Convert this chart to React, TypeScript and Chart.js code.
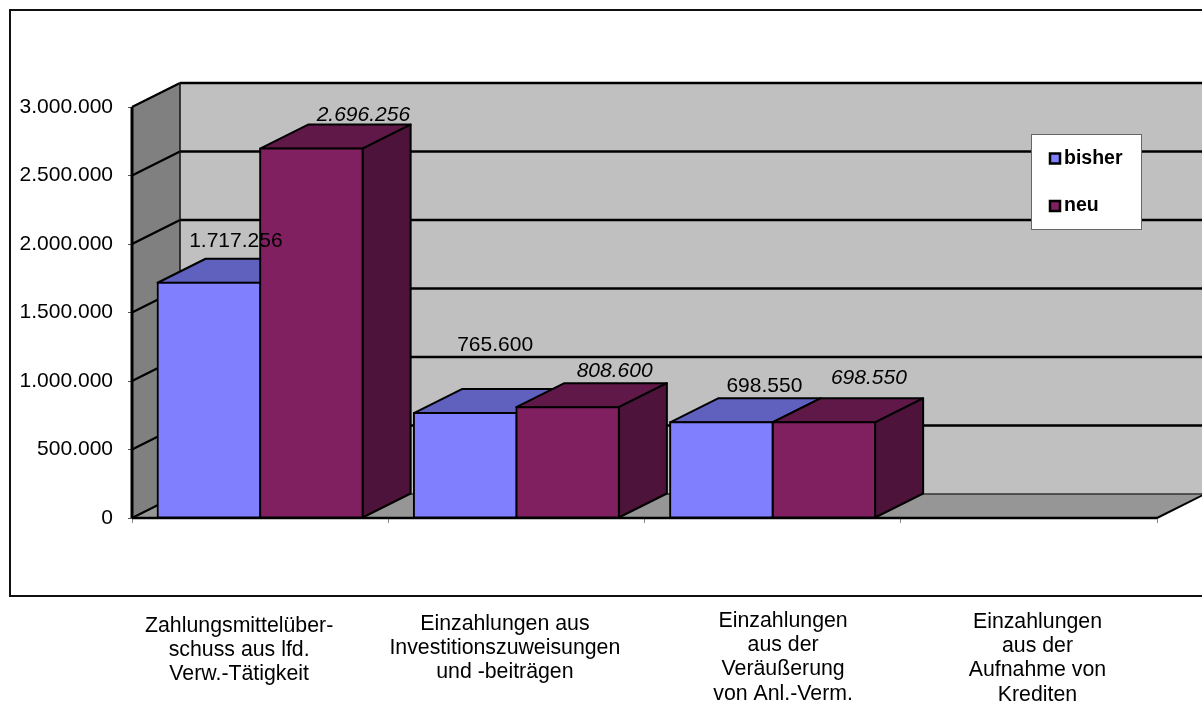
import React, { useEffect, useRef } from "react";
import { Chart, registerables } from "chart.js";

Chart.register(...registerables);

const categories = [
  ["Zahlungsmittelüber-", "schuss aus lfd.", "Verw.-Tätigkeit"],
  ["Einzahlungen aus", "Investitionszuweisungen", "und -beiträgen"],
  ["Einzahlungen", "aus der", "Veräußerung", "von Anl.-Verm."],
  ["Einzahlungen", "aus der", "Aufnahme von", "Krediten"],
];
const bisher = [1717256, 765600, 698550, 0];
const neu = [2696256, 808600, 698550, 0];

const categoryDx = [-21, -11.5, 10.5, 8.6];
const categoryBaseline = [632, 630, 627, 628];
const labelOffsetBisher = [[27, -36], [30, -62], [43, -30]];
const labelOffsetNeu = [[52, -28], [47, -30.5], [45, -38.5]];

const DX = 48;
const DY = -24;
const FONT = "Liberation Sans, Arial, sans-serif";
const fmt = (v: number) => v.toLocaleString("de-DE");

function poly(ctx: CanvasRenderingContext2D, pts: number[][], fill: string | null, stroke: string | null, lw = 2) {
  ctx.beginPath();
  pts.forEach((p, i) => (i ? ctx.lineTo(p[0], p[1]) : ctx.moveTo(p[0], p[1])));
  ctx.closePath();
  if (fill) { ctx.fillStyle = fill; ctx.fill(); }
  if (stroke) { ctx.strokeStyle = stroke; ctx.lineWidth = lw; ctx.lineJoin = "round"; ctx.stroke(); }
}
function line(ctx: CanvasRenderingContext2D, x1: number, y1: number, x2: number, y2: number, c = "#000", lw = 2) {
  ctx.beginPath(); ctx.moveTo(x1, y1); ctx.lineTo(x2, y2); ctx.strokeStyle = c; ctx.lineWidth = lw; ctx.stroke();
}

const topColors = ["#6060BF", "#601848"];
const sideColors = ["#4D4D99", "#4D133A"];

const scene = {
  id: "scene",
  beforeDraw(chart: any) {
    const ctx = chart.ctx;
    ctx.save();
    ctx.fillStyle = "#fff";
    ctx.fillRect(0, 0, chart.width, chart.height);
    ctx.strokeStyle = "#111";
    ctx.lineWidth = 2;
    ctx.strokeRect(10, 10, chart.width + 20, 586);
    ctx.restore();
  },
  beforeDatasetsDraw(chart: any) {
    const ctx = chart.ctx;
    const { left, right, top, bottom } = chart.chartArea;
    const y = chart.scales.y;
    ctx.save();
    // walls and floor
    poly(ctx, [[left + DX, top + DY], [right + DX, top + DY], [right + DX, bottom + DY], [left + DX, bottom + DY]], "#C0C0C0", null);
    poly(ctx, [[left, top], [left + DX, top + DY], [left + DX, bottom + DY], [left, bottom]], "#808080", null);
    poly(ctx, [[left, bottom], [left + DX, bottom + DY], [right + DX, bottom + DY], [right, bottom]], "#969696", null);
    // gridlines
    y.ticks.forEach((t: any) => {
      const py = y.getPixelForValue(t.value);
      if (t.value === 0) return;
      line(ctx, left, py, left + DX, py + DY, "#000", 2.2);
      line(ctx, left + DX, py + DY, right + DX, py + DY, "#000", 2.5);
    });
    line(ctx, left + DX, top + DY, left + DX, bottom + DY, "#111", 1.5);
    line(ctx, left + DX, bottom + DY, right + DX, bottom + DY, "#333", 1.5);
    line(ctx, left, bottom, left + DX, bottom + DY, "#000", 2);
    line(ctx, right, bottom, right + DX, bottom + DY, "#000", 2);
    line(ctx, left, bottom, right, bottom, "#000", 2.5);
    line(ctx, left, top, left, bottom, "#000", 3);
    // bar tops and sides
    [0, 1].forEach((di) => {
      chart.getDatasetMeta(di).data.forEach((b: any, i: number) => {
        if (!chart.data.datasets[di].data[i]) return;
        const x0 = b.x - b.width / 2;
        const x1 = b.x + b.width / 2;
        poly(ctx, [[x0, b.y], [x0 + DX, b.y + DY], [x1 + DX, b.y + DY], [x1, b.y]], topColors[di], "#000");
        poly(ctx, [[x1, b.y], [x1 + DX, b.y + DY], [x1 + DX, b.base + DY], [x1, b.base]], sideColors[di], "#000");
      });
    });
    ctx.restore();
  },
  afterDatasetsDraw(chart: any) {
    const ctx = chart.ctx;
    ctx.save();
    ctx.fillStyle = "#000";
    ctx.textBaseline = "alphabetic";
    ctx.textAlign = "center";
    [labelOffsetBisher, labelOffsetNeu].forEach((off, di) => {
      ctx.font = (di ? "italic " : "") + "21px " + FONT;
      off.forEach((o, i) => {
        const b = chart.getDatasetMeta(di).data[i];
        ctx.fillText(fmt(chart.data.datasets[di].data[i]), b.x + o[0], b.y + o[1]);
      });
    });
    // category labels
    const x = chart.scales.x;
    ctx.font = "21.3px " + FONT;
    categories.forEach((lines, i) => {
      lines.forEach((s, j) => {
        ctx.fillText(s, x.getPixelForValue(i) + categoryDx[i], categoryBaseline[i] + j * 24.2);
      });
    });
    // legend
    ctx.fillStyle = "#fff";
    ctx.fillRect(1031.5, 134.5, 110, 95);
    ctx.strokeStyle = "#666";
    ctx.lineWidth = 1;
    ctx.strokeRect(1031.5, 134.5, 110, 95);
    chart.data.datasets.forEach((d: any, i: number) => {
      const ly = 158.5 + i * 47.5;
      ctx.fillStyle = d.backgroundColor;
      ctx.fillRect(1050, ly - 5, 10, 10);
      ctx.strokeStyle = "#000";
      ctx.lineWidth = 2.5;
      ctx.strokeRect(1050, ly - 5, 10, 10);
      ctx.fillStyle = "#000";
      ctx.textAlign = "left";
      ctx.textBaseline = "middle";
      ctx.font = "bold 19.5px " + FONT;
      ctx.fillText(d.label, 1064, ly);
    });
    ctx.restore();
  },
};

export default function App() {
  const ref = useRef<HTMLCanvasElement>(null);
  useEffect(() => {
    const chart = new Chart(ref.current as HTMLCanvasElement, {
      type: "bar",
      data: {
        labels: categories.map((c) => c.join(" ")),
        datasets: [
          { label: "bisher", data: bisher, backgroundColor: "#8080FF", borderColor: "#000", borderWidth: 2, borderSkipped: false, inflateAmount: 1 },
          { label: "neu", data: neu, backgroundColor: "#802060", borderColor: "#000", borderWidth: 2, borderSkipped: false, inflateAmount: 1 },
        ],
      },
      options: {
        animation: false,
        responsive: false,
        devicePixelRatio: 1,
        layout: { padding: { top: 107, right: 45, left: 0, bottom: 0 } },
        datasets: { bar: { barPercentage: 1, categoryPercentage: 0.8 } },
        plugins: { legend: { display: false }, tooltip: { enabled: false }, title: { display: false } },
        scales: {
          x: {
            afterFit: (s: any) => { s.height = 184; },
            grid: { drawOnChartArea: false, drawTicks: true, tickLength: 5, color: "#888" },
            border: { display: false },
            ticks: { display: false },
          },
          y: {
            min: 0,
            max: 3000000,
            afterFit: (s: any) => { s.width = 132; },
            grid: { drawOnChartArea: false, drawTicks: true, tickLength: 4, color: "#555" },
            border: { display: false },
            ticks: {
              stepSize: 500000,
              padding: 15,
              color: "#000",
              font: { family: FONT, size: 21 },
              callback: (v: any) => fmt(Number(v)),
            },
          },
        },
      },
      plugins: [scene],
    } as any);
    return () => chart.destroy();
  }, []);
  return (
    <div style={{ position: "absolute", left: 0, top: 0, width: 1202, height: 702, overflow: "hidden" }}>
      <canvas ref={ref} width={1202} height={702} style={{ display: "block" }} />
    </div>
  );
}
